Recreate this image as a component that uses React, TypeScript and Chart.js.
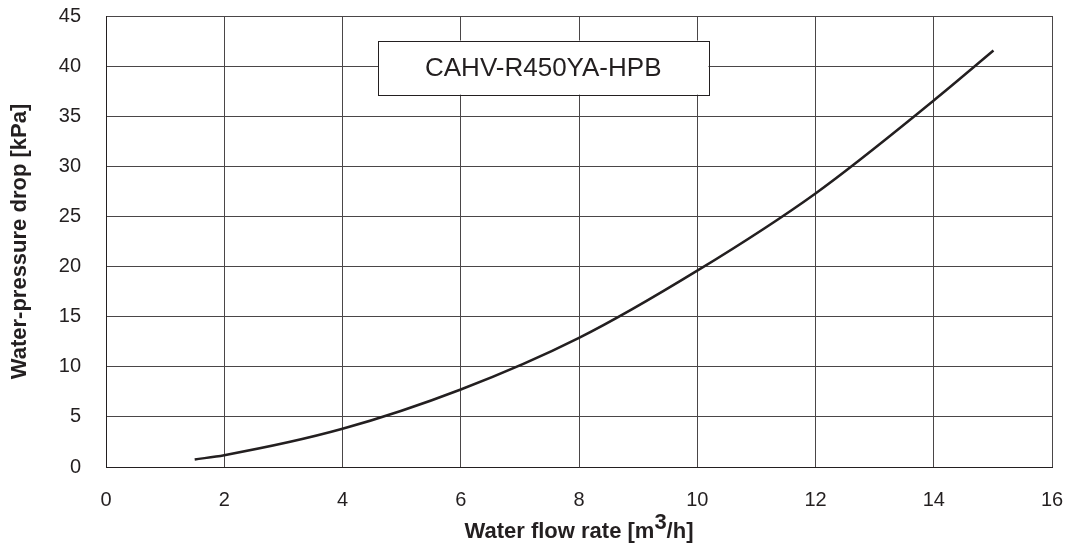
import React, { useEffect, useRef } from "react";
import { Chart, registerables } from "chart.js";

Chart.register(...registerables);

// ---- data ----
const flowRates = [1.5, 2, 4, 6, 8, 10, 12, 14, 15.01];
const pressureDrops = [0.75, 1.18, 3.81, 7.73, 12.88, 19.59, 27.3, 36.57, 41.55];
const xTickValues = [0, 2, 4, 6, 8, 10, 12, 14, 16];
const yTickValues = [0, 5, 10, 15, 20, 25, 30, 35, 40, 45];
const modelName = "CAHV-R450YA-HPB";
const xTitleMain = "Water flow rate [m";
const xTitleSup = "3";
const xTitleEnd = "/h]";
const yTitle = "Water-pressure drop [kPa]";

const FONT = "'Liberation Sans', Arial, Helvetica, sans-serif";
const INK = "#231f20";
const GRID = "#4a4647";

const overlayPlugin = {
  id: "overlay",
  afterDraw(chart: any) {
    const { ctx, chartArea, scales } = chart;
    const xs = scales.x;
    const ys = scales.y;
    ctx.save();
    // model name box
    const bx1 = xs.getPixelForValue(4.6);
    const bx2 = xs.getPixelForValue(10.19);
    const by1 = ys.getPixelForValue(42.55);
    const by2 = ys.getPixelForValue(37.15);
    ctx.fillStyle = "#ffffff";
    ctx.fillRect(bx1, by1, bx2 - bx1, by2 - by1);
    ctx.strokeStyle = INK;
    ctx.lineWidth = 1;
    ctx.strokeRect(Math.round(bx1) + 0.5, Math.round(by1) + 0.5, Math.round(bx2 - bx1), Math.round(by2 - by1));
    ctx.fillStyle = INK;
    ctx.font = `26px ${FONT}`;
    ctx.textAlign = "center";
    ctx.textBaseline = "middle";
    ctx.fillText(modelName, (bx1 + bx2) / 2, (by1 + by2) / 2 + 1);

    // x-axis title with superscript
    ctx.font = `bold 22px ${FONT}`;
    ctx.textAlign = "left";
    ctx.textBaseline = "alphabetic";
    const w1 = ctx.measureText(xTitleMain).width;
    const w2 = ctx.measureText(xTitleSup).width;
    const w3 = ctx.measureText(xTitleEnd).width;
    const total = w1 + w2 + w3;
    const cx = (chartArea.left + chartArea.right) / 2;
    let x = cx - total / 2;
    const base = 538;
    ctx.fillText(xTitleMain, x, base);
    x += w1;
    ctx.fillText(xTitleSup, x, base - 9);
    x += w2;
    ctx.fillText(xTitleEnd, x, base);
    ctx.restore();
  },
};

export default function App() {
  const canvasRef = useRef<HTMLCanvasElement | null>(null);

  useEffect(() => {
    const canvas = canvasRef.current;
    if (!canvas) return;
    const chart = new Chart(canvas, {
      type: "scatter",
      data: {
        datasets: [
          {
            data: flowRates.map((q, i) => ({ x: q, y: pressureDrops[i] })),
            showLine: true,
            borderColor: INK,
            borderWidth: 2.5,
            pointRadius: 0,
            cubicInterpolationMode: "monotone",
            fill: false,
          } as any,
        ],
      },
      options: {
        responsive: false,
        animation: false,
        devicePixelRatio: 1,
        layout: { padding: { top: 16, right: 13, left: 0, bottom: 0 } },
        plugins: {
          legend: { display: false },
          tooltip: { enabled: false },
        },
        scales: {
          x: {
            type: "linear",
            min: 0,
            max: 16,
            afterBuildTicks: (s: any) => {
              s.ticks = xTickValues.map((v) => ({ value: v }));
            },
            afterFit: (s: any) => {
              s.height = 79;
            },
            grid: { color: GRID, lineWidth: 1, drawTicks: true, tickLength: 21, tickColor: "rgba(0,0,0,0)" },
            border: { color: INK, width: 1 },
            ticks: {
              color: INK,
              padding: 0,
              maxRotation: 0,
              font: { family: FONT, size: 20 },
            },
          },
          y: {
            type: "linear",
            min: 0,
            max: 45,
            afterBuildTicks: (s: any) => {
              s.ticks = yTickValues.map((v) => ({ value: v }));
            },
            afterFit: (s: any) => {
              s.width = 106;
            },
            grid: { color: GRID, lineWidth: 1, drawTicks: true, tickLength: 25, tickColor: "rgba(0,0,0,0)" },
            border: { color: INK, width: 1 },
            ticks: {
              color: INK,
              padding: 0,
              font: { family: FONT, size: 20 },
            },
            title: {
              display: true,
              text: yTitle,
              color: INK,
              padding: { top: 7, bottom: 0 },
              font: { family: FONT, size: 22, weight: "bold" },
            },
          },
        },
      },
      plugins: [overlayPlugin],
    });
    return () => chart.destroy();
  }, []);

  return (
    <div style={{ position: "absolute", left: 0, top: 0, width: 1065, height: 546, background: "#ffffff" }}>
      <canvas ref={canvasRef} width={1065} height={546} style={{ display: "block" }} />
    </div>
  );
}
